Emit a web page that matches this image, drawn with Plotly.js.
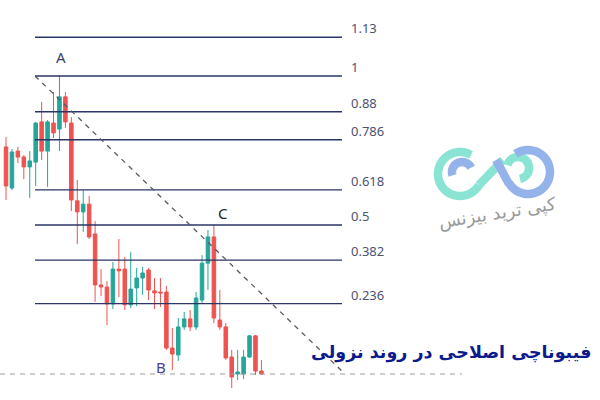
<!DOCTYPE html>
<html>
<head>
<meta charset="utf-8">
<script src="https://cdn.plot.ly/plotly-3.0.1.min.js"></script>
<style>html,body{margin:0;padding:0;background:#fff;}#chart{width:600px;height:400px;}</style>
</head>
<body>
<div id="chart"></div>
<script>
// Candle data (price expressed in Fibonacci-ratio units: B low = 0, A high = 1)
const candleIndex = [0,1,2,3,4,5,6,7,8,9,10,11,12,13,14,15,16,17,18,19,20,21,22,23,24,25,26,27,28,29,30,31,32,33,34,35,36,37,38,39,40,41,42,43];
const openVals  = [0.762,0.624,0.748,0.728,0.695,0.711,0.846,0.748,0.842,0.822,0.930,0.842,0.581,0.544,0.570,0.470,0.299,0.292,0.235,0.352,0.352,0.232,0.289,0.322,0.349,0.279,0.275,0.275,0.087,0.064,0.158,0.185,0.158,0.248,0.372,0.460,0.181,0.158,0.057,0.000,0.000,0.057,0.128,0.010];
const highVals  = [0.795,0.755,0.762,0.735,0.748,0.846,0.913,0.852,0.946,1.003,0.946,0.862,0.651,0.617,0.597,0.513,0.352,0.312,0.376,0.453,0.393,0.409,0.356,0.359,0.356,0.322,0.322,0.295,0.154,0.188,0.208,0.215,0.275,0.399,0.483,0.500,0.282,0.171,0.081,0.081,0.081,0.131,0.131,0.047];
const lowVals   = [0.584,0.617,0.708,0.654,0.591,0.631,0.718,0.628,0.792,0.748,0.826,0.547,0.436,0.477,0.453,0.242,0.262,0.164,0.218,0.258,0.215,0.221,0.228,0.265,0.248,0.218,0.225,0.081,0.013,0.044,0.148,0.144,0.148,0.238,0.282,0.171,0.148,0.047,-0.047,-0.020,-0.017,0.054,-0.003,-0.003];
const closeVals = [0.631,0.745,0.728,0.695,0.715,0.842,0.748,0.846,0.809,0.930,0.846,0.584,0.544,0.570,0.460,0.299,0.292,0.235,0.352,0.346,0.232,0.285,0.322,0.339,0.282,0.272,0.272,0.087,0.067,0.158,0.185,0.158,0.255,0.372,0.460,0.188,0.158,0.054,-0.010,0.007,0.057,0.128,0.010,0.000];

// Fibonacci retracement levels
const fibLevels = [1.13, 1, 0.88, 0.786, 0.618, 0.5, 0.382, 0.236];
const fibLabels = ['1.13', '1', '0.88', '0.786', '0.618', '0.5', '0.382', '0.236'];
const pointLabels = ['A', 'B', 'C'];
const titleText = 'فیبوناچی اصلاحی در روند نزولی';
const logoText = 'کپی ترید بیزنس';

const W = 600, H = 400;
const px = x => x / W;
const py = y => 1 - y / H;

function arc(cx, cy, r, a0, a1, n) {
  n = n || 40;
  let d = '';
  for (let i = 0; i <= n; i++) {
    const a = (a0 + (a1 - a0) * i / n) * Math.PI / 180;
    const x = cx + r * Math.cos(a), y = cy - r * Math.sin(a);
    d += (i === 0 ? 'M' : 'L') + px(x).toFixed(5) + ',' + py(y).toFixed(5) + ' ';
  }
  return d;
}
function seg(x0, y0, x1, y1) {
  return 'M' + px(x0) + ',' + py(y0) + ' L' + px(x1) + ',' + py(y1);
}

const shapes = [];
const annotations = [];
const lineColor = '#2b3566';
fibLevels.forEach((lv, i) => {
  shapes.push({type: 'line', xref: 'paper', yref: 'y', x0: px(35), x1: px(342), y0: lv, y1: lv,
    line: {color: lineColor, width: 1.3}});
  annotations.push({xref: 'paper', yref: 'y', x: px(349), y: lv, yshift: 9, xanchor: 'left', yanchor: 'middle',
    text: fibLabels[i], showarrow: false, font: {family: 'Noto Sans, sans-serif', size: 13, color: '#4b5275'}});
});
// zero level dashed
shapes.push({type: 'line', xref: 'paper', yref: 'y', x0: 0, x1: px(462), y0: 0, y1: 0,
  line: {color: '#9c9c9c', width: 1.2, dash: '5px,5px'}});
// diagonal trend dashed line from level 1 to level 0
shapes.push({type: 'line', xref: 'paper', yref: 'y', x0: px(35), y0: 1, x1: px(345), y1: 0,
  line: {color: '#555a66', width: 1.3, dash: '5px,5px'}});

// logo (decorative)
const teal = '#8ae4d4', blue = '#93b3ea';
[
  [arc(460, 174, 22, 60, 330), teal],
  [seg(479, 185, 503, 160), teal],
  [arc(518, 168, 11, 165, -80), teal],
  [arc(528, 172, 22, 125, -150), blue],
  [seg(509, 184, 496, 160), blue],
  [arc(462, 172, 10, 200, 25), blue]
].forEach(([p, c]) => {
  shapes.push({type: 'path', xref: 'paper', yref: 'paper', path: p,
    line: {color: c, width: 8.5}, layer: 'above'});
});

annotations.push({xref: 'paper', yref: 'paper', x: px(497), y: py(213), xanchor: 'center', yanchor: 'middle',
  text: logoText, showarrow: false, textangle: -9,
  font: {family: 'DejaVu Sans, sans-serif', size: 18, color: '#9a9a9a'}});

// point labels
const labelPos = [[61, 57, '#3d416b'], [161, 367, '#4b3f8f'], [223, 213, '#222222']];
pointLabels.forEach((t, i) => {
  annotations.push({xref: 'paper', yref: 'paper', x: px(labelPos[i][0]), y: py(labelPos[i][1]),
    xanchor: 'center', yanchor: 'middle', text: t, showarrow: false,
    font: {family: 'Noto Sans, sans-serif', size: 15, color: labelPos[i][2]}});
});

// title
annotations.push({xref: 'paper', yref: 'paper', x: px(593), y: py(352), xanchor: 'right', yanchor: 'middle',
  text: '<b>' + titleText + '</b>', showarrow: false,
  font: {family: 'DejaVu Sans, sans-serif', size: 17.5, color: '#0b1a8c'}});

const trace = {
  type: 'candlestick',
  x: candleIndex,
  open: openVals, high: highVals, low: lowVals, close: closeVals,
  increasing: {line: {color: '#26a69a', width: 1}, fillcolor: '#26a69a'},
  decreasing: {line: {color: '#ef5350', width: 1}, fillcolor: '#ef5350'},
  whiskerwidth: 0,
  hoverinfo: 'none'
};

const layout = {
  width: W, height: H,
  margin: {l: 0, r: 0, t: 0, b: 0},
  paper_bgcolor: '#fff', plot_bgcolor: '#fff',
  showlegend: false,
  boxgap: 0.15,
  xaxis: {visible: false, range: [-1.01, 100], rangeslider: {visible: false}, fixedrange: true},
  yaxis: {visible: false, range: [-0.0872, 1.255], fixedrange: true},
  shapes: shapes,
  annotations: annotations
};

Plotly.newPlot('chart', [trace], layout, {staticPlot: true, displayModeBar: false});
</script>
</body>
</html>
